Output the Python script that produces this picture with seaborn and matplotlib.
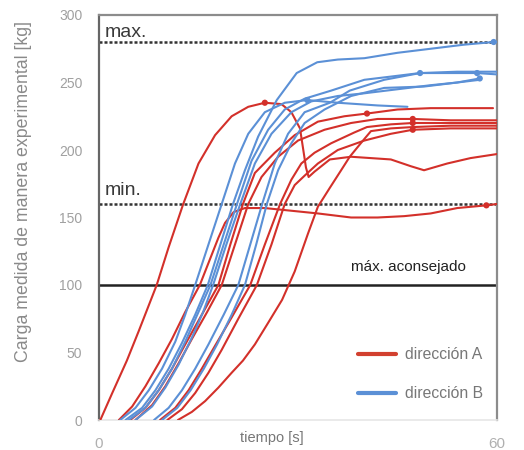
import numpy as np
import pandas as pd
import matplotlib
matplotlib.use("Agg")
import matplotlib.pyplot as plt
import seaborn as sns
from matplotlib.lines import Line2D

# ---------------- data ----------------
x_ticks = [0, 60]
y_ticks = [0, 50, 100, 150, 200, 250, 300]
limit_max = 280
limit_min = 160
limit_advised = 100

# direction A (red)
A1_t = [0.2, 2, 4.2, 6, 8.7, 10.5, 12.7, 15, 17.5, 20, 22.5, 25, 27.5, 29, 30.3, 30.8, 31.2, 31.6, 32.5, 34.8, 38, 44, 47, 49, 52.5, 56, 60]
A1_v = [0, 20, 44, 66, 100, 128, 160, 190, 211, 225, 232, 235, 234, 228, 216, 200, 187, 180, 184, 193, 195, 193, 188, 185, 190, 194, 197]
A2_t = [3, 5, 7, 9, 11, 13, 15.2, 16.8, 18, 19, 20.3, 22, 25, 29, 33, 38, 42, 46, 50, 54, 58.4, 60]
A2_v = [0, 10, 25, 42, 60, 80, 100, 120, 135, 146, 154, 157, 157, 155, 153, 150, 150, 151, 153, 157, 159, 160]
A3_t = [4.7, 7, 9, 11, 13, 15.5, 18, 19.8, 21.7, 23.5, 26.5, 29.5, 33, 37, 40.4, 45, 50, 59.4]
A3_v = [0, 9, 22, 38, 56, 78, 100, 130, 160, 183, 198, 211, 221, 225, 227, 230, 231, 231]
A4_t = [5.5, 8, 10, 12, 14, 16.3, 18.5, 20.5, 22.5, 24.5, 27, 30, 34, 38, 42, 47.3, 53, 60]
A4_v = [0, 11, 25, 42, 60, 80, 100, 130, 160, 180, 195, 207, 215, 220, 223, 223, 222, 222]
A5_t = [9.2, 11.5, 13.5, 15.5, 17.5, 20, 22.8, 25, 27.3, 29, 30.5, 32.5, 35, 38.5, 40.4, 44, 47.3, 53, 60]
A5_v = [0, 9, 22, 38, 55, 76, 100, 130, 160, 178, 190, 198, 205, 213, 217, 219, 220, 220, 220]
A6_t = [10.3, 12.5, 14.5, 16.5, 18.5, 21, 23.8, 26, 28, 29.5, 31, 33, 36, 40, 44, 47.3, 53, 60]
A6_v = [0, 8, 20, 35, 52, 75, 100, 130, 160, 174, 181, 190, 200, 207, 212, 215, 216, 216]
A7_t = [11.9, 14, 16, 18, 20, 21.7, 23.5, 25.5, 27.6, 29.5, 31.5, 33, 34.8, 36.5, 37.8, 39.8, 41, 44, 47.3, 53, 60]
A7_v = [0, 6, 14, 24, 35, 44, 56, 72, 89, 110, 138, 158, 172, 185, 195, 207, 214, 216, 217, 218, 218]

# direction B (blue)
B1_t = [4, 6.5, 8.5, 10.5, 12.5, 14.5, 16.4, 18.3, 20.2, 22, 24, 26.8, 29.8, 32.9, 36, 40, 45, 50, 55, 59.5, 60]
B1_v = [0, 9, 22, 38, 57, 78, 100, 130, 160, 185, 210, 237, 257, 265, 267, 268, 272, 275, 278, 280, 280]
B2_t = [4.5, 7, 9, 11, 13, 15, 16.8, 18.8, 20.8, 23, 25.5, 28, 31, 35, 40, 48.4, 54, 57, 60]
B2_v = [0, 9, 22, 38, 58, 80, 100, 130, 160, 192, 215, 230, 238, 244, 252, 257, 257, 257, 256]
B3_t = [5.5, 8, 10, 12, 14, 15.7, 17.2, 19.2, 21.3, 23.5, 26, 29, 32, 36, 40, 45, 50, 54, 57.4]
B3_v = [0, 10, 24, 41, 61, 80, 100, 130, 160, 190, 212, 228, 236, 240, 242, 245, 248, 250, 253]
B4_t = [3.2, 5.5, 7.5, 9.5, 11.5, 13, 14.5, 16.5, 18.5, 20.5, 22.5, 25, 28, 31.4, 36, 42, 46.5]
B4_v = [0, 9, 22, 38, 58, 78, 100, 130, 160, 190, 212, 228, 235, 237, 235, 233, 232]
B5_t = [8.3, 10.5, 12.5, 14.5, 16.5, 18.8, 21, 22.8, 24.6, 26.5, 28.5, 31, 34.8, 37.8, 43, 48.4, 54, 60]
B5_v = [0, 9, 22, 38, 56, 78, 100, 130, 160, 190, 212, 228, 235, 244, 252, 257, 258, 258]
B6_t = [9.5, 11.8, 13.8, 15.8, 17.8, 20, 22, 23.7, 25.3, 27, 29, 31, 34, 38, 43, 49, 54, 57.4]
B6_v = [0, 9, 22, 38, 56, 78, 100, 130, 160, 185, 205, 220, 230, 240, 246, 247, 250, 252]

# indices of the points that carry a small dot marker
A1_marks = [11]
A2_marks = [20]
A3_marks = [14]
A4_marks = [15]
A5_marks = [16]
A6_marks = [15]
B1_marks = [19]
B2_marks = [15, 17]
B3_marks = [18]
B4_marks = [13]

legend_labels = ["dirección A", "dirección B"]

RED = "#d3302a"
BLUE = "#5b90d6"

curves = [
    ("A1", "A", A1_t, A1_v, A1_marks), ("A2", "A", A2_t, A2_v, A2_marks),
    ("A3", "A", A3_t, A3_v, A3_marks), ("A4", "A", A4_t, A4_v, A4_marks),
    ("A5", "A", A5_t, A5_v, A5_marks), ("A6", "A", A6_t, A6_v, A6_marks),
    ("A7", "A", A7_t, A7_v, []),
    ("B1", "B", B1_t, B1_v, B1_marks), ("B2", "B", B2_t, B2_v, B2_marks),
    ("B3", "B", B3_t, B3_v, B3_marks), ("B4", "B", B4_t, B4_v, B4_marks),
    ("B5", "B", B5_t, B5_v, []), ("B6", "B", B6_t, B6_v, []),
]

rows, mrows = [], []
for name, d, ts, vs, marks in curves:
    for i, (t, v) in enumerate(zip(ts, vs)):
        rows.append({"curve": name, "dir": d, "t": t, "v": v})
        if i in marks:
            mrows.append({"dir": d, "t": t, "v": v})
df = pd.DataFrame(rows)
mdf = pd.DataFrame(mrows)

# ---------------- drawing ----------------
sns.set_theme(style="white")
plt.rcParams["font.family"] = ["Liberation Sans", "DejaVu Sans"]

fig = plt.figure(figsize=(5.24, 4.5), dpi=100)
ax = fig.add_axes([99 / 524, 30 / 450, 398 / 524, 405 / 450])

pal = {"A": RED, "B": BLUE}
sns.lineplot(data=df, x="t", y="v", hue="dir", units="curve", estimator=None,
             sort=False, palette=pal, lw=1.5, legend=False, ax=ax, zorder=3)
sns.scatterplot(data=mdf, x="t", y="v", hue="dir", palette=pal, s=20,
                edgecolor="none", legend=False, ax=ax, zorder=4)

ax.axhline(limit_max, color="#333333", lw=1.8, ls=(0, (1.2, 0.8)), zorder=2)
ax.axhline(limit_min, color="#333333", lw=1.8, ls=(0, (1.2, 0.8)), zorder=2)
ax.axhline(limit_advised, color="#222222", lw=1.8, zorder=2)

ax.text(0.9, 283.5, "max.", fontsize=14, color="#3a3a3a", ha="left", va="baseline")
ax.text(0.9, 166.5, "min.", fontsize=14, color="#3a3a3a", ha="left", va="baseline")
ax.text(46.7, 113, "máx. aconsejado", fontsize=11, color="#222222",
        ha="center", va="center")

ax.set_xlim(0, 60)
ax.set_ylim(0, 300)
ax.set_xticks(x_ticks)
ax.set_yticks(y_ticks)
ax.tick_params(axis="both", length=0)
ax.tick_params(axis="y", pad=12, labelsize=10, labelcolor="#a0a0a0")
ax.tick_params(axis="x", pad=12, labelsize=11, labelcolor="#b0b0b0")

ax.set_xlabel("tiempo [s]", fontsize=10.5, color="#777777")
ax.xaxis.set_label_coords(0.435, -0.027)
ax.set_ylabel("Carga medida de manera experimental [kg]", fontsize=12.8, color="#8a8a8a")
ax.yaxis.set_label_coords(-0.168, 0.564)

for side in ["top", "right"]:
    ax.spines[side].set_color("#8c8c8c")
    ax.spines[side].set_linewidth(1.6)
ax.spines["left"].set_color("#666666")
ax.spines["left"].set_linewidth(1.6)
ax.spines["bottom"].set_color("#e6e6e6")
ax.spines["bottom"].set_linewidth(1.2)

handles = [Line2D([], [], color="#d2402f", lw=3),
           Line2D([], [], color=BLUE, lw=3)]
ax.legend(handles, legend_labels, loc="lower left", bbox_to_anchor=(0.615, 0.012),
          frameon=False, fontsize=11.3, labelcolor="#777777", handlelength=2.4,
          labelspacing=1.5, handletextpad=0.6)

fig.savefig("out.png", dpi=100)
